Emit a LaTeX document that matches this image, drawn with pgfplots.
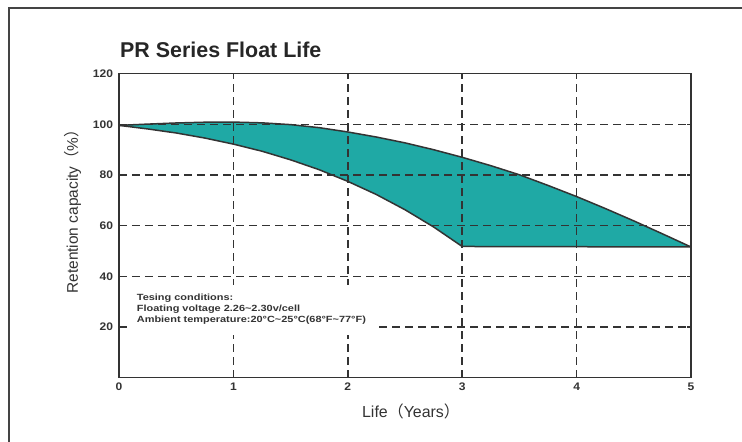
\documentclass[border=0pt]{standalone}
\usepackage{fontspec}
\setmainfont{Liberation Sans}
\newfontfamily\cjk{Noto Sans CJK SC}
\newfontfamily\widefont[FakeStretch=1.22]{Liberation Sans}
\newfontfamily\tickfont[FakeStretch=1.1]{Liberation Sans}
\usepackage{pgfplots}
\pgfplotsset{compat=1.18}

\definecolor{teal1}{HTML}{1FA9A5}
\definecolor{ink}{HTML}{333333}
\definecolor{frame}{HTML}{444444}

\begin{document}
\begin{tikzpicture}
\useasboundingbox (-119bp,-64.3bp) rectangle (623bp,377.7bp);
% outer frame (left and top edges only are visible)
\draw[frame, line width=2bp] (-110bp,-64.3bp) -- (-110bp,369.2bp) -- (623bp,369.2bp);

\begin{axis}[
    scale only axis,
    width=572bp, height=304bp,
    xmin=0, xmax=5, ymin=0, ymax=120,
    xtick={0,1,2,3,4,5}, xticklabels={0,1,2,3,4,5},
    ytick={20,40,60,80,100,120}, yticklabels={20,40,60,80,100,120},
    grid=major,
    grid style={ink, line width=1.5bp, dash pattern=on 8bp off 5bp},
    axis line style={ink, line width=1.5bp},
    tick style={ink, line width=1.3bp},
    major tick length=4bp,
    tick align=inside,
    tick label style={font=\tickfont\bfseries\fontsize{11}{13}\selectfont, text=ink},
    xticklabel style={yshift=-1.5bp},
    yticklabel style={xshift=-2.5bp},
    axis on top,
]
% band between upper and lower retention limits
\addplot[fill=teal1, draw=none] coordinates {
  (0,99.6) (0.25,100.1) (0.5,100.55) (0.75,100.85) (1,100.9) (1.25,100.6)
  (1.5,99.9) (1.75,98.7) (2,97.0) (2.25,95.0) (2.5,92.7) (2.75,90.0)
  (3,87.0) (3.25,83.7) (3.5,80.1) (3.75,75.9) (4,71.5) (4.25,66.8)
  (4.5,61.9) (4.75,56.8) (5,51.6)
  (3,51.8) (2.75,59.5) (2.5,66.3) (2.25,72.3) (2,77.5) (1.75,82.1)
  (1.5,86.0) (1.25,89.4) (1,92.2) (0.75,94.6) (0.5,96.6) (0.25,98.2)
} -- cycle;
% upper edge
\addplot[ink, line width=1.5bp] coordinates {
  (0,99.6) (0.25,100.1) (0.5,100.55) (0.75,100.85) (1,100.9) (1.25,100.6)
  (1.5,99.9) (1.75,98.7) (2,97.0) (2.25,95.0) (2.5,92.7) (2.75,90.0)
  (3,87.0) (3.25,83.7) (3.5,80.1) (3.75,75.9) (4,71.5) (4.25,66.8)
  (4.5,61.9) (4.75,56.8) (5,51.6)
};
% lower edge
\addplot[ink, line width=1.5bp] coordinates {
  (0,99.6) (0.25,98.2) (0.5,96.6) (0.75,94.6) (1,92.2) (1.25,89.4)
  (1.5,86.0) (1.75,82.1) (2,77.5) (2.25,72.3) (2.5,66.3) (2.75,59.5)
  (3,51.8) (5,51.6)
};
\end{axis}

% test conditions box
\fill[white] (9bp,42.7bp) rectangle (256bp,92.7bp);
\begin{scope}[every node/.style={anchor=base west, inner sep=0pt, text=ink,
    font=\widefont\bfseries\fontsize{9}{11}\selectfont}]
\node at (17.7bp,77.2bp) {Tesing conditions:};
\node at (17.7bp,66.2bp) {Floating voltage 2.26\textasciitilde2.30v/cell};
\node at (17.7bp,55.2bp) {Ambient temperature:20°C\textasciitilde25°C(68°F\textasciitilde77°F)};
\end{scope}

% titles
\node[anchor=base west, inner sep=0pt, text=black!85,
  font=\bfseries\fontsize{21.5}{25}\selectfont] at (1bp,320.4bp) {PR Series Float Life};
\node[anchor=base, inner sep=0pt, text=ink, font=\fontsize{16}{19}\selectfont]
  at (292bp,-40bp) {Life{\cjk （}Years{\cjk ）}};
\node[anchor=base, rotate=90, inner sep=0pt, text=ink, font=\fontsize{15.5}{18}\selectfont]
  at (-41bp,170bp) {Retention capacity{\cjk （}\%{\cjk ）}};
\end{tikzpicture}
\end{document}
